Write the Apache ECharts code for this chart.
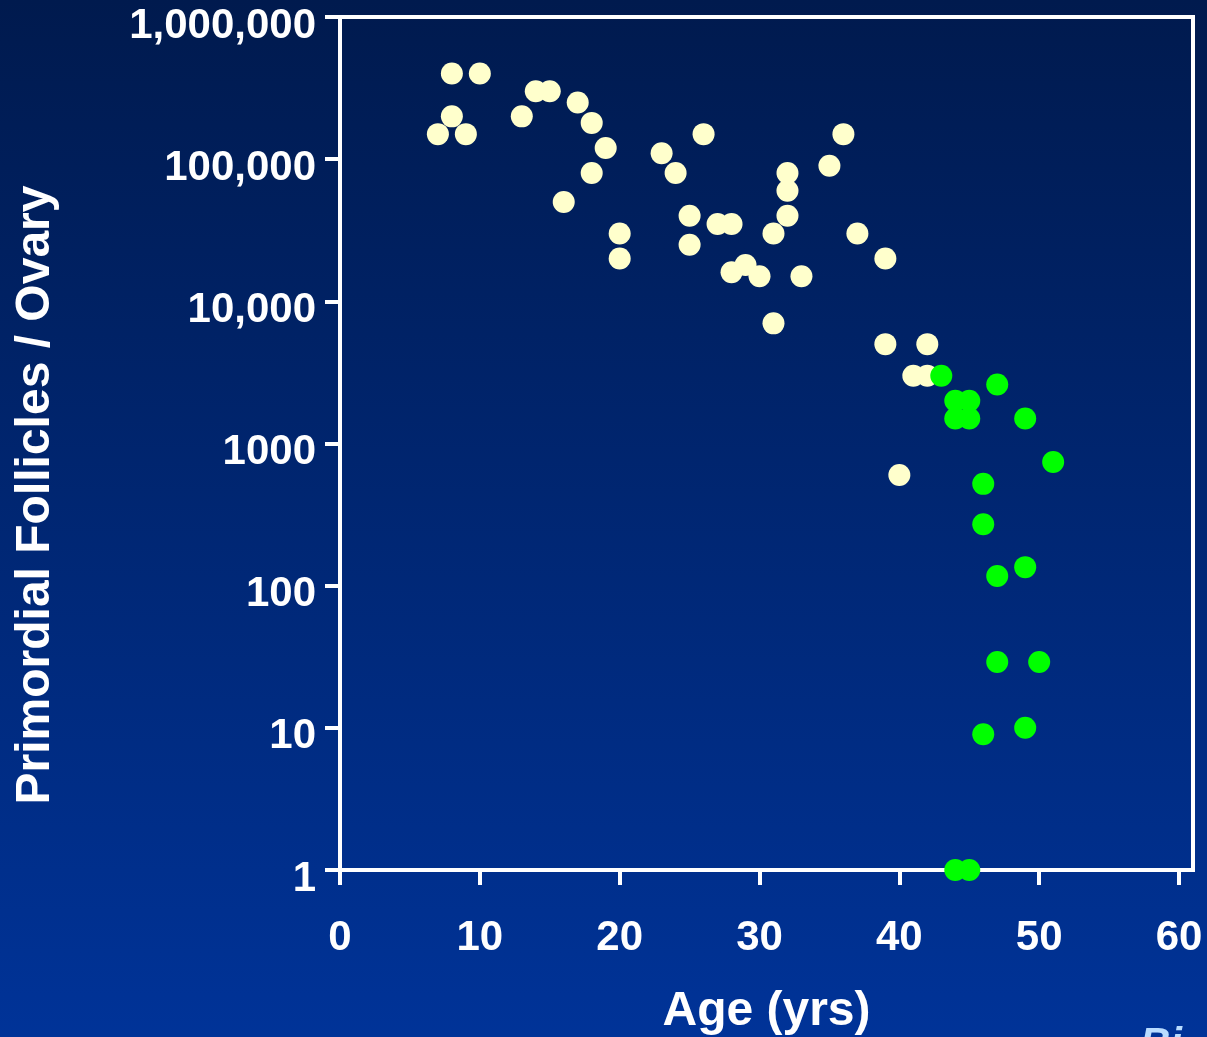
<!DOCTYPE html>
<html>
<head>
<meta charset="utf-8">
<script src="https://cdn.jsdelivr.net/npm/echarts@6/dist/echarts.min.js"></script>
<style>
  html, body { margin: 0; padding: 0; background: #00225f; }
  #chart { width: 1207px; height: 1037px; }
</style>
</head>
<body>
<div id="chart"></div>
<script>
// Follicle counts per ovary by age (years)
const earlyAges = [8, 10, 8, 7, 9, 13, 14, 15, 17, 18, 19, 18, 16, 20, 20,
  23, 24, 26, 25, 25, 27, 28, 28, 29, 30, 31, 32, 32, 32, 31,
  36, 35, 37, 39, 33, 39, 42, 41, 42, 40];
const earlyCounts = [400000, 400000, 200000, 150000, 150000, 200000, 300000, 300000, 250000, 180000, 120000, 80000, 50000, 30000, 20000,
  110000, 80000, 150000, 40000, 25000, 35000, 35000, 16000, 18000, 15000, 30000, 80000, 60000, 40000, 7000,
  150000, 90000, 30000, 20000, 15000, 5000, 5000, 3000, 3000, 600];

const lateAges = [43, 44, 45, 44, 45, 47, 49, 51, 46, 46, 47, 49, 47, 50, 46, 49, 44, 45];
const lateCounts = [3000, 2000, 2000, 1500, 1500, 2600, 1500, 740, 520, 270, 117, 135, 29, 29, 9, 10, 1, 1];

// Axis ticks and their labels
const xTicks = [0, 10, 20, 30, 40, 50, 60];
const yTicks = [1, 10, 100, 1000, 10000, 100000, 1000000];
const yTickLabels = ['1', '10', '100', '1000', '10,000', '100,000', '1,000,000'];

const toPairs = (xs, ys) => xs.map((x, i) => [x, ys[i]]);

const chart = echarts.init(document.getElementById('chart'));
const FONT = 'Liberation Sans, Arial, sans-serif';

chart.setOption({
  animation: false,
  backgroundColor: {
    type: 'linear', x: 0, y: 0, x2: 0, y2: 1,
    colorStops: [
      { offset: 0, color: '#001a4e' },
      { offset: 1, color: '#003398' }
    ]
  },
  grid: {
    left: 340, right: 14, top: 17, bottom: 167,
    containLabel: false, outerBoundsMode: 'none',
    show: true, borderColor: '#ffffff', borderWidth: 4,
    backgroundColor: 'transparent'
  },
  xAxis: {
    type: 'value', min: 0, max: 61,
    name: 'Age (yrs)', nameLocation: 'middle', nameGap: 118,
    nameTextStyle: { color: '#ffffff', fontFamily: FONT, fontWeight: 'bold', fontSize: 48 },
    axisLine: { show: true, lineStyle: { color: '#ffffff', width: 4 } },
    axisTick: { show: true, length: 15, customValues: xTicks, lineStyle: { color: '#ffffff', width: 4 } },
    axisLabel: {
      customValues: xTicks, margin: 47,
      color: '#ffffff', fontFamily: FONT, fontWeight: 'bold', fontSize: 42
    },
    splitLine: { show: false }
  },
  yAxis: {
    type: 'log', logBase: 10, min: 1, max: 1000000,
    axisLine: { show: true, lineStyle: { color: '#ffffff', width: 4 } },
    axisTick: { show: true, length: 15, customValues: yTicks, lineStyle: { color: '#ffffff', width: 4 } },
    axisLabel: {
      customValues: yTicks, margin: 24,
      verticalAlign: 'top', lineHeight: 18,
      color: '#ffffff', fontFamily: FONT, fontWeight: 'bold', fontSize: 42,
      formatter: (v) => {
        const i = yTicks.indexOf(Math.round(v));
        return i >= 0 ? yTickLabels[i] : '';
      }
    },
    splitLine: { show: false },
    minorTick: { show: false }
  },
  graphic: [
    {
      type: 'text', x: 36, y: 495, rotation: Math.PI / 2,
      style: {
        text: 'Primordial Follicles / Ovary',
        fill: '#ffffff', font: 'bold 48px ' + FONT,
        align: 'center', verticalAlign: 'middle'
      }
    },
    {
      type: 'text', x: 1140, y: 1024,
      style: {
        text: 'Bi', fill: '#b9dcff', font: 'italic bold 42px ' + FONT,
        align: 'left', verticalAlign: 'top'
      }
    }
  ],
  series: [
    {
      type: 'scatter', name: 'early',
      data: toPairs(earlyAges, earlyCounts),
      symbol: 'circle', symbolSize: 22,
      itemStyle: { color: '#ffffcc', opacity: 1 },
      z: 3
    },
    {
      type: 'scatter', name: 'late',
      data: toPairs(lateAges, lateCounts),
      symbol: 'circle', symbolSize: 22,
      itemStyle: { color: '#00ff00', opacity: 1 },
      z: 4
    }
  ]
});
</script>
</body>
</html>
